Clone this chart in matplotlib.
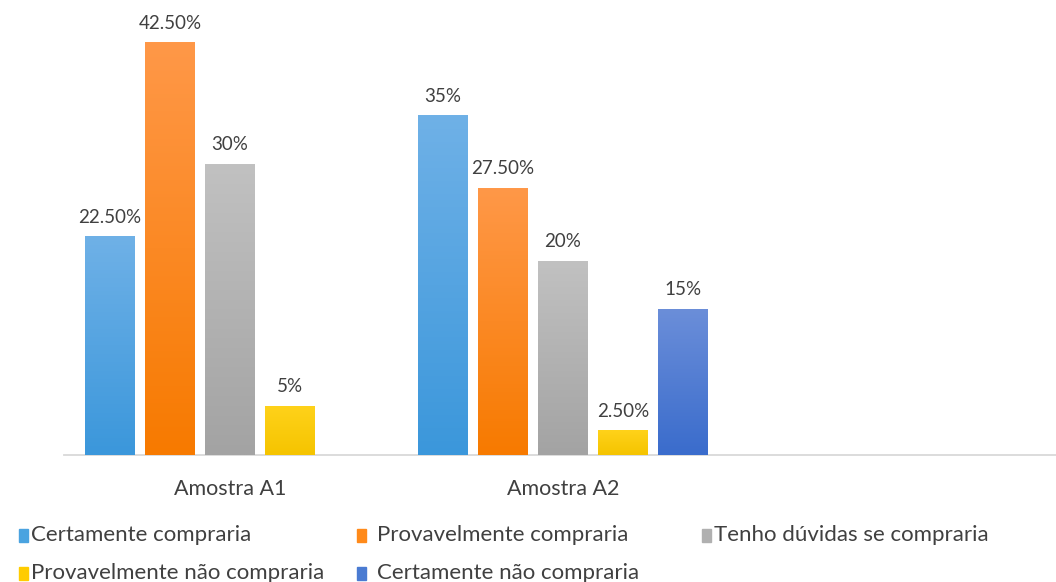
import matplotlib.pyplot as plt
import matplotlib.patheffects as pe
from matplotlib.colors import LinearSegmentedColormap
from matplotlib.patches import Rectangle
import numpy as np

plt.rcParams["font.family"] = ["Lato", "DejaVu Sans"]

# Survey answers per sample (percent); None = no bar drawn
categories = ["Amostra A1", "Amostra A2", ""]
series_names = [
    "Certamente compraria",
    "Provavelmente compraria",
    "Tenho dúvidas se compraria",
    "Provavelmente não compraria",
    "Certamente não compraria",
]
amostra_a1 = [22.5, 42.5, 30.0, 5.0, None]
amostra_a2 = [35.0, 27.5, 20.0, 2.5, 15.0]
amostra_a3 = [None, None, None, None, None]

# (top, bottom) gradient colours per series
series_grad = [
    ("#6fb1e7", "#3b97db"),
    ("#ff9848", "#f77a00"),
    ("#c1c1c1", "#a3a3a3"),
    ("#ffd21a", "#f5c400"),
    ("#6b8ed9", "#3a6ccc"),
]
legend_color = ["#4aa3e0", "#ff8a1a", "#b0b0b0", "#ffcc00", "#4a7bd2"]

TEXT = "#404040"
W, H = 1056, 582

fig = plt.figure(figsize=(W / 100, H / 100), dpi=100)
ax = fig.add_axes([63.5 / W, 127 / H, 999 / W, 436.3 / H])
ax.set_xlim(-0.5, 2.5)
ax.set_ylim(0, 45)

bar_w = 0.15
step = 0.18
values_by_cat = [amostra_a1, amostra_a2, amostra_a3]

for ci, vals in enumerate(values_by_cat):
    for si, v in enumerate(vals):
        if v is None:
            continue
        x = ci + (si - 2) * step
        bar = ax.bar(x, v, width=bar_w, color=legend_color[si], zorder=2,
                     linewidth=0)[0]
        bar.set_path_effects([pe.SimplePatchShadow(offset=(0, -1.5),
                                                   shadow_rgbFace="#000000",
                                                   alpha=0.12),
                              pe.Normal()])
        top, bot = series_grad[si]
        cmap = LinearSegmentedColormap.from_list("g", [bot, top])
        grad = np.linspace(1, 0, 256).reshape(-1, 1)
        ax.imshow(grad, cmap=cmap, extent=[x - bar_w / 2, x + bar_w / 2, 0, v],
                  aspect="auto", interpolation="bilinear", zorder=3)
        label = f"{v:.0f}%" if float(v).is_integer() else f"{v:.2f}%"
        ax.annotate(label, (x, v), xytext=(0, 8), textcoords="offset points",
                    ha="center", va="bottom", fontsize=13.5, color=TEXT, zorder=4)

ax.set_xlim(-0.5, 2.5)
ax.set_ylim(0, 45)
ax.set_xticks(range(len(categories)))
ax.set_xticklabels(categories, fontsize=15.5, color=TEXT)
ax.tick_params(axis="x", length=0, pad=17)
ax.set_yticks([])
for s in ["top", "right", "left"]:
    ax.spines[s].set_visible(False)
ax.spines["bottom"].set_color("#d9d9d9")
ax.spines["bottom"].set_linewidth(1.3)
ax.set_facecolor("white")

# Legend laid out in two rows, three columns
sq_x = [19, 357, 702]
txt_x = [31, 377, 714]
row_y = [535, 573]
for i, name in enumerate(series_names):
    r, c = divmod(i, 3)
    yc = H - row_y[r]
    fig.patches.append(Rectangle(((sq_x[c]) / W, (yc - 6.5) / H), 9 / W, 13 / H,
                                 transform=fig.transFigure, color=legend_color[i]))
    fig.text(txt_x[c] / W, yc / H, name, ha="left", va="center",
             fontsize=16, color=TEXT)

fig.savefig("out.png", dpi=100, facecolor="white")
